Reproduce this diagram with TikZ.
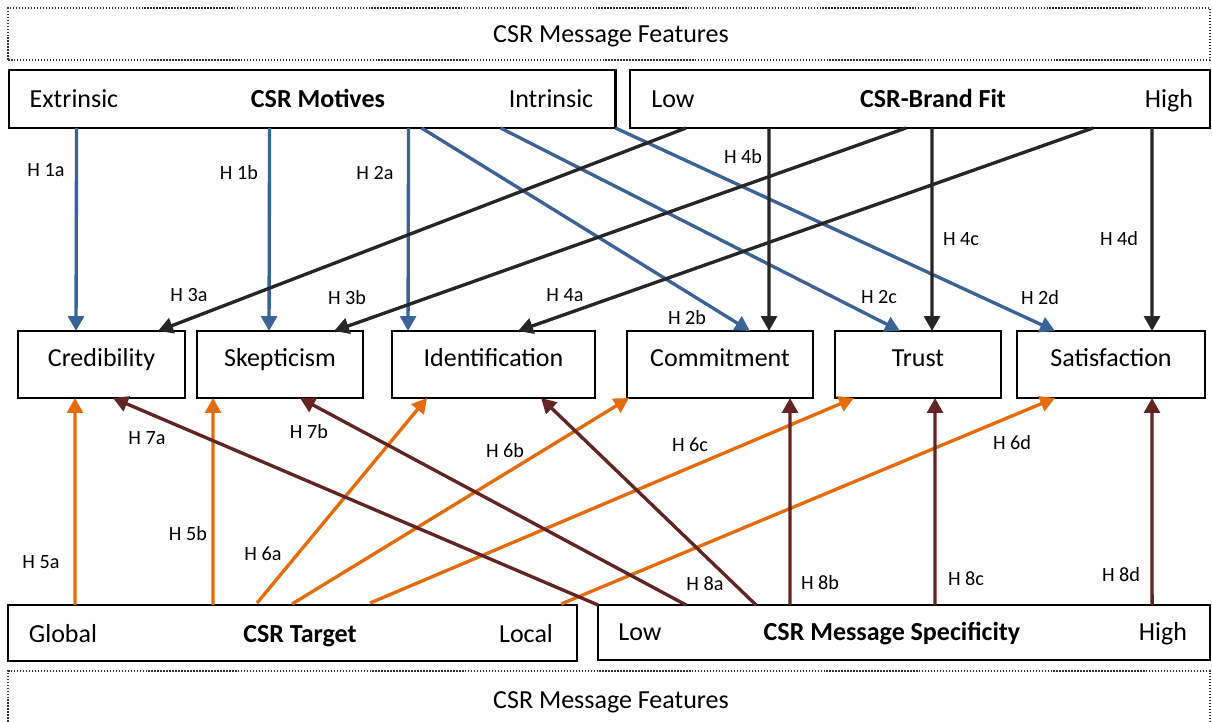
\documentclass[tikz,border=0pt]{standalone}
\usepackage{fontspec}
\setmainfont{Carlito}
\usetikzlibrary{arrows.meta,calc}
\definecolor{motblue}{HTML}{3A6398}
\definecolor{fitblack}{HTML}{262626}
\definecolor{tgtorange}{HTML}{E46C0A}
\definecolor{specbrown}{HTML}{632523}
\tikzset{
  box/.style={draw=black, line width=1.2pt, fill=white, inner sep=0pt, outer sep=0pt},
  featbox/.style={draw=black!80, line width=0.8pt, dash pattern=on 0.8pt off 0.9pt, inner sep=0pt, outer sep=0pt},
  boxtext/.style={font=\fontsize{14.8}{17}\selectfont, inner sep=0pt, text height=9.5pt, text depth=0pt},
  hlabel/.style={font=\fontsize{11.5}{13}\selectfont, inner sep=0pt, text height=7.4pt, text depth=0pt},
  link/.style={line width=1.9pt, -{Triangle[length=8.5pt,width=9pt]}},
  motlink/.style={link, draw=motblue, fill=motblue},
  fitlink/.style={link, draw=fitblack, fill=fitblack},
  tgtlink/.style={link, draw=tgtorange, fill=tgtorange},
  speclink/.style={link, draw=specbrown, fill=specbrown}
}
\begin{document}
\begin{tikzpicture}[x=0.02cm, y=-0.02cm]
\clip (0,0) rectangle (1212,722);
\fill[white] (0,0) rectangle (1212,722);

% message feature frames
\node[featbox, minimum width=24.04cm, minimum height=1.04cm] (featTop) at (609,34) {};
\node[boxtext] (featTopTxt) at (611,34) {CSR Message Features};
\node[featbox, minimum width=24.04cm, minimum height=1.12cm] (featBot) at (609,699) {};
\node[boxtext] (featBotTxt) at (611,700) {CSR Message Features};

% top factor boxes
\node[box, minimum width=12.14cm, minimum height=1.16cm] (motives) at (312,99) {};
\node[boxtext] (extr) at (74,99) {Extrinsic};
\node[boxtext] (motT) at (318,99) {\textbf{CSR Motives}};
\node[boxtext] (intr) at (551,99) {Intrinsic};

\node[box, minimum width=11.6cm, minimum height=1.16cm] (brand) at (920,99) {};
\node[boxtext] (fitLow) at (673,99) {Low};
\node[boxtext] (fitT) at (933,99) {\textbf{CSR-Brand Fit}};
\node[boxtext] (fitHigh) at (1169,99) {High};

% outcome boxes
\node[box, minimum width=3.34cm, minimum height=1.34cm] (cred) at (101.5,364.5) {};
\node[boxtext] at ($(cred)+(0,-6)$) {Credibility};
\node[box, minimum width=3.32cm, minimum height=1.34cm] (skep) at (280,364.5) {};
\node[boxtext] at ($(skep)+(0,-6)$) {Skepticism};
\node[box, minimum width=4.06cm, minimum height=1.34cm] (ident) at (493.5,364.5) {};
\node[boxtext] at ($(ident)+(0,-6)$) {Identification};
\node[box, minimum width=3.72cm, minimum height=1.34cm] (commit) at (720,364.5) {};
\node[boxtext] at ($(commit)+(0,-6)$) {Commitment};
\node[box, minimum width=3.32cm, minimum height=1.34cm] (trust) at (918,364.5) {};
\node[boxtext] at ($(trust)+(0,-6)$) {Trust};
\node[box, minimum width=3.76cm, minimum height=1.34cm] (satis) at (1111,364.5) {};
\node[boxtext] at ($(satis)+(0,-6)$) {Satisfaction};

% bottom factor boxes
\node[box, minimum width=11.38cm, minimum height=1.12cm] (target) at (292.5,633) {};
\node[boxtext] (glob) at (63,634) {Global};
\node[boxtext] (tgtT) at (300,634) {\textbf{CSR Target}};
\node[boxtext] (loc) at (526,634) {Local};

\node[box, minimum width=12.24cm, minimum height=1.1cm] (spec) at (904,632.5) {};
\node[boxtext] (specLow) at (640,632) {Low};
\node[boxtext] (specT) at (892,632) {\textbf{CSR Message Specificity}};
\node[boxtext] (specHigh) at (1163,632) {High};

% CSR motives -> outcomes
\draw[motlink] ($(motives.south west)+(68,0)$)  -- ($(cred.north west)+(58,0)$);
\draw[motlink] ($(motives.south west)+(261,0)$) -- ($(skep.north west)+(72,0)$);
\draw[motlink] ($(motives.south west)+(400,0)$) -- ($(ident.north west)+(16,0)$);
\draw[motlink] ($(motives.south west)+(413,0)$) -- ($(commit.north west)+(123,0)$);
\draw[motlink] ($(motives.south west)+(492,0)$) -- ($(trust.north west)+(65,0)$);
\draw[motlink] (motives.south east) -- ($(satis.north west)+(38,0)$);

% CSR-brand fit -> outcomes
\draw[fitlink] ($(brand.south west)+(56,0)$)  -- ($(cred.north west)+(140,0)$);
\draw[fitlink] ($(brand.south west)+(276,0)$) -- ($(skep.north west)+(137,0)$);
\draw[fitlink] ($(brand.south west)+(463,0)$) -- ($(ident.north west)+(126,0)$);
\draw[fitlink] ($(brand.south west)+(139,0)$) -- ($(commit.north west)+(142,0)$);
\draw[fitlink] ($(brand.south west)+(302,0)$) -- ($(trust.north west)+(97,0)$);
\draw[fitlink] ($(brand.south west)+(522,0)$) -- ($(satis.north west)+(135,0)$);

% CSR target -> outcomes
\draw[tgtlink] ($(target.north west)+(67,0)$)  -- ($(cred.south west)+(57,0)$);
\draw[tgtlink] ($(target.north west)+(205,0)$) -- ($(skep.south west)+(16,0)$);
\draw[tgtlink] ($(target.north west)+(249,-2)$) -- ($(ident.south west)+(35,0)$);
\draw[tgtlink] ($(target.north west)+(284,-1)$) -- ($(commit.south west)+(2,0)$);
\draw[tgtlink] ($(target.north west)+(362,-2)$) -- ($(trust.south west)+(19,0)$);
\draw[tgtlink] ($(target.north west)+(553,-1)$) -- ($(satis.south west)+(38,0)$);

% CSR message specificity -> outcomes
\draw[speclink] (spec.north west) -- ($(cred.south west)+(95,0)$);
\draw[speclink] ($(spec.north west)+(88,0)$)  -- ($(skep.south west)+(103,0)$);
\draw[speclink] ($(spec.north west)+(158,0)$) -- ($(ident.south west)+(149,0)$);
\draw[speclink] ($(spec.north west)+(192,0)$) -- ($(commit.south west)+(163,0)$);
\draw[speclink] ($(spec.north west)+(337,0)$) -- ($(trust.south west)+(100,0)$);
\draw[speclink] ($(spec.north west)+(554,0)$) -- ($(satis.south west)+(135,0)$);

% hypothesis labels
\node[hlabel] (h1a) at (46,170) {H 1a};
\node[hlabel] (h1b) at (239,173) {H 1b};
\node[hlabel] (h2a) at (375,173) {H 2a};
\node[hlabel] (h3a) at (189,295) {H 3a};
\node[hlabel] (h3b) at (347,298) {H 3b};
\node[hlabel] (h4a) at (565,295) {H 4a};
\node[hlabel] (h4b) at (743,157) {H 4b};
\node[hlabel] (h4c) at (961,239) {H 4c};
\node[hlabel] (h4d) at (1119,239) {H 4d};
\node[hlabel] (h2b) at (687,318) {H 2b};
\node[hlabel] (h2c) at (879,297) {H 2c};
\node[hlabel] (h2d) at (1040,298) {H 2d};
\node[hlabel] (h7a) at (147,438) {H 7a};
\node[hlabel] (h7b) at (309,432) {H 7b};
\node[hlabel] (h6b) at (505,451) {H 6b};
\node[hlabel] (h6c) at (690,445) {H 6c};
\node[hlabel] (h6d) at (1012,443) {H 6d};
\node[hlabel] (h5b) at (188,534) {H 5b};
\node[hlabel] (h6a) at (263,554) {H 6a};
\node[hlabel] (h5a) at (41,562) {H 5a};
\node[hlabel] (h8a) at (705,584) {H 8a};
\node[hlabel] (h8b) at (820,583) {H 8b};
\node[hlabel] (h8c) at (966,579) {H 8c};
\node[hlabel] (h8d) at (1121,575) {H 8d};
\end{tikzpicture}
\end{document}
